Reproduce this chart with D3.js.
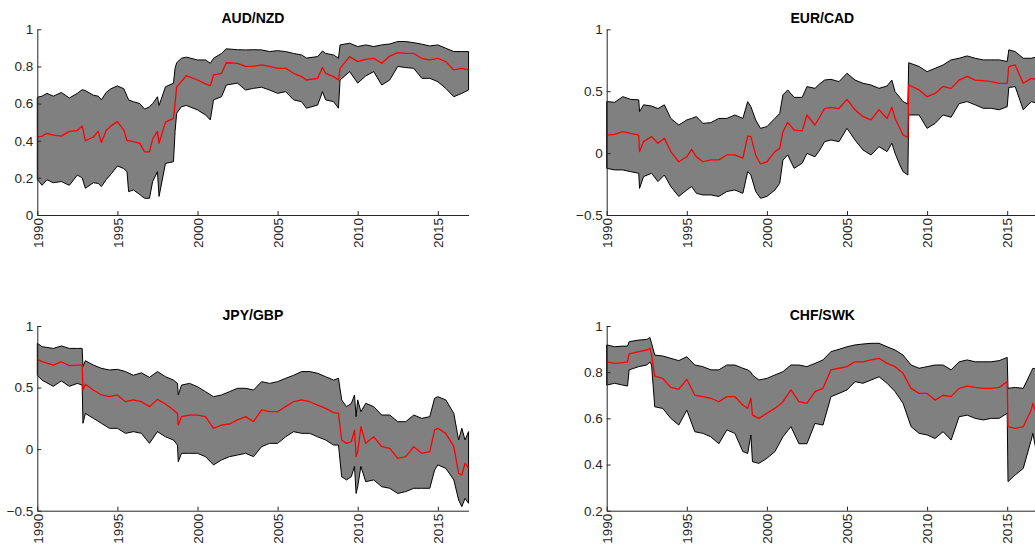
<!DOCTYPE html>
<html><head><meta charset="utf-8">
<script src="https://cdn.jsdelivr.net/npm/d3@7"></script>
<style>
html,body{margin:0;padding:0;background:#fff;overflow:hidden}
svg{display:block;font-family:"Liberation Sans",Arial,Helvetica,sans-serif}
</style></head><body>
<svg id="c" width="1035" height="547"></svg>
<script>
const titles = ["AUD/NZD", "EUR/CAD", "JPY/GBP", "CHF/SWK"];
const xTicks = [1990, 1995, 2000, 2005, 2010, 2015];
const yTicks1 = [0, 0.2, 0.4, 0.6, 0.8, 1];
const yTicks2 = [-0.5, 0, 0.5, 1];
const yTicks3 = [-0.5, 0, 0.5, 1];
const yTicks4 = [0.2, 0.4, 0.6, 0.8, 1];

// AUD/NZD
const t1 = [1990,1990.3,1990.6,1991,1991.5,1992,1992.5,1992.8,1993,1993.5,1993.8,1994,1994.3,1994.6,1995,1995.4,1995.6,1995.7,1996,1996.4,1996.7,1997,1997.2,1997.5,1997.6,1998,1998.5,1998.6,1998.7,1999,1999.3,2000,2000.5,2000.8,2001,2001.5,2001.8,2002.5,2003,2003.5,2004,2004.5,2005,2005.5,2006,2006.5,2006.8,2007.5,2007.8,2008,2008.5,2008.8,2008.9,2009.5,2010,2010.5,2011,2011.5,2012,2012.5,2013,2013.5,2014,2014.5,2015,2015.5,2016,2016.5,2016.92];
const up1 = [0.634,0.64,0.655,0.64,0.66,0.63,0.655,0.675,0.67,0.645,0.64,0.62,0.66,0.68,0.695,0.68,0.64,0.62,0.61,0.60,0.57,0.583,0.60,0.637,0.59,0.69,0.71,0.79,0.82,0.844,0.85,0.835,0.835,0.817,0.844,0.87,0.895,0.89,0.889,0.89,0.889,0.88,0.885,0.88,0.87,0.862,0.845,0.853,0.883,0.87,0.862,0.844,0.916,0.925,0.907,0.916,0.907,0.916,0.921,0.934,0.934,0.928,0.92,0.91,0.916,0.898,0.88,0.88,0.88];
const mid1 = [0.42,0.425,0.44,0.43,0.425,0.45,0.455,0.48,0.40,0.42,0.45,0.39,0.455,0.48,0.503,0.457,0.40,0.40,0.395,0.386,0.34,0.34,0.41,0.45,0.386,0.50,0.52,0.60,0.69,0.72,0.75,0.727,0.706,0.695,0.754,0.763,0.82,0.817,0.80,0.80,0.808,0.80,0.79,0.79,0.763,0.745,0.727,0.736,0.794,0.763,0.745,0.727,0.79,0.853,0.826,0.838,0.844,0.817,0.856,0.874,0.87,0.87,0.844,0.835,0.844,0.826,0.781,0.79,0.781];
const lo1 = [0.192,0.16,0.19,0.174,0.18,0.16,0.215,0.20,0.144,0.174,0.17,0.153,0.19,0.22,0.264,0.25,0.233,0.126,0.135,0.11,0.09,0.09,0.18,0.233,0.10,0.278,0.287,0.45,0.548,0.583,0.59,0.566,0.539,0.512,0.62,0.637,0.70,0.71,0.673,0.682,0.688,0.673,0.655,0.664,0.62,0.61,0.575,0.592,0.664,0.62,0.61,0.575,0.727,0.772,0.71,0.749,0.772,0.70,0.727,0.80,0.794,0.79,0.736,0.736,0.718,0.682,0.637,0.655,0.673];

// EUR/CAD
const t2 = [1990,1990.5,1991,1991.5,1992,1992.05,1992.3,1992.8,1993.2,1993.6,1994,1994.5,1995,1995.3,1995.6,1996,1996.5,1997,1997.5,1998,1998.5,1998.8,1999,1999.3,1999.6,2000,2000.5,2000.8,2001,2001.3,2001.7,2002.2,2002.5,2003,2003.3,2003.6,2004,2004.5,2005,2005.5,2006,2006.5,2007,2007.5,2007.8,2008,2008.3,2008.5,2008.8,2008.85,2009.5,2010,2010.5,2011,2011.5,2012,2012.5,2013,2013.5,2014,2014.5,2015,2015.1,2015.5,2016,2016.5,2016.92];
const up2 = [0.416,0.41,0.456,0.434,0.43,0.335,0.39,0.38,0.36,0.39,0.28,0.227,0.268,0.28,0.295,0.24,0.246,0.28,0.28,0.308,0.28,0.416,0.375,0.268,0.20,0.214,0.28,0.32,0.47,0.51,0.45,0.45,0.537,0.523,0.56,0.59,0.596,0.577,0.645,0.59,0.564,0.55,0.523,0.542,0.59,0.496,0.45,0.416,0.397,0.73,0.70,0.658,0.685,0.712,0.753,0.766,0.785,0.766,0.753,0.753,0.753,0.74,0.834,0.82,0.766,0.766,0.78];
const mid2 = [0.146,0.152,0.173,0.16,0.146,0.012,0.093,0.133,0.08,0.12,0.012,-0.07,-0.03,0.03,-0.03,-0.07,-0.055,-0.055,-0.015,-0.015,-0.04,0.138,0.133,-0.015,-0.088,-0.07,0.012,0.038,0.173,0.248,0.186,0.18,0.308,0.227,0.294,0.36,0.37,0.36,0.434,0.35,0.294,0.268,0.35,0.28,0.37,0.28,0.20,0.146,0.127,0.55,0.51,0.456,0.482,0.537,0.523,0.59,0.62,0.59,0.585,0.577,0.564,0.564,0.698,0.712,0.564,0.604,0.59];
const lo2 = [-0.123,-0.136,-0.136,-0.15,-0.163,-0.285,-0.19,-0.163,-0.23,-0.177,-0.27,-0.35,-0.298,-0.27,-0.325,-0.338,-0.338,-0.35,-0.31,-0.298,-0.325,-0.15,-0.177,-0.31,-0.365,-0.35,-0.298,-0.244,-0.056,-0.015,-0.123,-0.082,-0.002,-0.03,0.025,0.092,0.106,0.092,0.20,0.106,0.025,-0.015,0.052,0.012,0.08,-0.002,-0.096,-0.15,-0.177,0.308,0.308,0.20,0.24,0.308,0.29,0.40,0.416,0.39,0.362,0.362,0.35,0.375,0.53,0.537,0.35,0.416,0.40];

// JPY/GBP
const t3 = [1990,1990.3,1991,1991.5,1992,1992.5,1992.8,1992.85,1993,1993.5,1994,1994.5,1995,1995.5,1996,1996.5,1997,1997.5,1998,1998.5,1998.75,1998.8,1999,1999.5,2000,2000.5,2001,2001.5,2002,2002.5,2003,2003.5,2004,2004.5,2005,2005.5,2006,2006.5,2007,2007.5,2008,2008.5,2008.8,2009,2009.3,2009.6,2009.8,2009.9,2010,2010.2,2010.5,2011,2011.5,2012,2012.5,2013,2013.5,2014,2014.5,2014.8,2015,2015.5,2016,2016.3,2016.5,2016.7,2016.92];
const up3 = [0.86,0.832,0.818,0.838,0.818,0.818,0.818,0.67,0.718,0.683,0.656,0.643,0.648,0.63,0.60,0.62,0.583,0.63,0.588,0.561,0.534,0.44,0.52,0.534,0.507,0.467,0.426,0.44,0.467,0.494,0.494,0.48,0.548,0.534,0.548,0.575,0.60,0.63,0.63,0.616,0.588,0.561,0.575,0.40,0.345,0.37,0.44,0.264,0.40,0.304,0.372,0.345,0.277,0.277,0.223,0.223,0.277,0.25,0.264,0.413,0.426,0.40,0.29,0.074,0.169,0.074,0.142];
const mid3 = [0.729,0.71,0.683,0.71,0.678,0.683,0.683,0.48,0.527,0.48,0.44,0.426,0.44,0.385,0.40,0.385,0.345,0.404,0.367,0.318,0.29,0.196,0.264,0.277,0.277,0.264,0.169,0.196,0.204,0.237,0.264,0.223,0.318,0.304,0.304,0.345,0.385,0.40,0.385,0.358,0.331,0.296,0.29,0.074,0.047,0.06,0.155,-0.06,-0.02,0.182,0.047,0.10,0.02,0.006,-0.075,-0.061,0.02,-0.034,-0.02,0.155,0.169,0.128,0.02,-0.197,-0.21,-0.115,-0.156];
const lo3 = [0.60,0.56,0.51,0.554,0.51,0.534,0.52,0.21,0.29,0.25,0.21,0.169,0.169,0.128,0.142,0.128,0.047,0.142,0.10,0.074,0.033,-0.102,-0.034,-0.034,-0.034,-0.061,-0.128,-0.088,-0.061,-0.048,-0.034,-0.061,0.02,0.047,0.047,0.10,0.142,0.128,0.128,0.10,0.074,0.033,0.033,-0.224,-0.25,-0.224,-0.14,-0.36,-0.305,-0.14,-0.264,-0.25,-0.305,-0.318,-0.36,-0.345,-0.318,-0.318,-0.318,-0.17,-0.128,-0.156,-0.25,-0.413,-0.467,-0.40,-0.44];

// CHF/SWK
const t4 = [1990,1990.5,1991,1991.3,1991.4,1992,1992.5,1992.7,1992.8,1993,1993.5,1994,1994.5,1995,1995.5,1996,1996.5,1997,1997.5,1998,1998.5,1998.8,1999,1999.1,1999.5,2000,2000.5,2001,2001.5,2002,2002.5,2003,2003.5,2004,2004.5,2005,2005.5,2006,2006.5,2007,2007.5,2008,2008.5,2009,2009.5,2010,2010.5,2011,2011.5,2012,2012.5,2013,2013.5,2014,2014.5,2015,2015.05,2015.5,2016,2016.5,2016.6,2016.92];
const up4 = [0.918,0.91,0.913,0.913,0.932,0.939,0.942,0.95,0.925,0.874,0.87,0.86,0.85,0.867,0.831,0.824,0.81,0.81,0.831,0.831,0.817,0.81,0.80,0.788,0.766,0.773,0.788,0.802,0.831,0.831,0.824,0.838,0.853,0.889,0.899,0.91,0.918,0.922,0.925,0.925,0.91,0.896,0.874,0.831,0.817,0.824,0.831,0.831,0.81,0.845,0.853,0.845,0.845,0.845,0.85,0.864,0.73,0.734,0.73,0.802,0.817,0.81];
const mid4 = [0.845,0.838,0.841,0.845,0.879,0.889,0.896,0.903,0.874,0.783,0.773,0.734,0.726,0.769,0.70,0.694,0.687,0.672,0.694,0.694,0.658,0.643,0.687,0.614,0.60,0.622,0.643,0.672,0.723,0.672,0.665,0.716,0.73,0.81,0.817,0.824,0.845,0.845,0.853,0.86,0.838,0.824,0.795,0.73,0.708,0.708,0.679,0.70,0.694,0.73,0.74,0.734,0.73,0.73,0.734,0.759,0.564,0.557,0.564,0.636,0.665,0.60];
const lo4 = [0.744,0.752,0.744,0.74,0.81,0.824,0.831,0.845,0.831,0.65,0.643,0.60,0.571,0.636,0.542,0.535,0.52,0.49,0.55,0.535,0.456,0.448,0.528,0.412,0.405,0.427,0.456,0.52,0.564,0.49,0.49,0.578,0.571,0.694,0.708,0.723,0.759,0.752,0.766,0.78,0.752,0.716,0.665,0.564,0.535,0.528,0.513,0.542,0.506,0.607,0.614,0.60,0.593,0.60,0.60,0.622,0.326,0.355,0.383,0.506,0.535,0.42];

const series = [
  {title: titles[0], t: t1, up: up1, mid: mid1, lo: lo1, yTicks: yTicks1},
  {title: titles[1], t: t2, up: up2, mid: mid2, lo: lo2, yTicks: yTicks2},
  {title: titles[2], t: t3, up: up3, mid: mid3, lo: lo3, yTicks: yTicks3},
  {title: titles[3], t: t4, up: up4, mid: mid4, lo: lo4, yTicks: yTicks4}
];

const layout = [
  {x0: 37.3, y0: 29.3, y1: 215},
  {x0: 606.7, y0: 29.3, y1: 215},
  {x0: 37.3, y0: 326, y1: 510.7},
  {x0: 606.7, y0: 326, y1: 510.7}
];
const pxPerYear = 16.02;
const xEnd = 2016.92;

const svg = d3.select("#c");
const axisColor = "#262626";
const fontFam = '"Liberation Sans",Arial,Helvetica,sans-serif';

series.forEach((s, i) => {
  const L = layout[i];
  const x = d3.scaleLinear().domain([1990, xEnd]).range([L.x0, L.x0 + (xEnd - 1990) * pxPerYear]);
  const y = d3.scaleLinear().domain(d3.extent(s.yTicks)).range([L.y1, L.y0]);
  const g = svg.append("g");

  const pts = s.t.map((tv, k) => ({t: tv, up: s.up[k], mid: s.mid[k], lo: s.lo[k]}));
  const area = d3.area().x(d => x(d.t)).y0(d => y(d.lo)).y1(d => y(d.up));
  g.append("path")
    .attr("d", area(pts) + "Z")
    .attr("fill", "#808080").attr("stroke", "#000").attr("stroke-width", 1).attr("stroke-linejoin", "round");
  const line = d3.line().x(d => x(d.t)).y(d => y(d.mid));
  g.append("path").attr("d", line(pts))
    .attr("fill", "none").attr("stroke", "#ff0000").attr("stroke-width", 1.3).attr("stroke-linejoin", "round");

  const ya = g.append("g").attr("transform", `translate(${L.x0},0)`)
    .call(d3.axisLeft(y).tickValues(s.yTicks).tickSize(-4).tickSizeOuter(0).tickPadding(4).tickFormat(d3.format("~g")));
  const xa = g.append("g").attr("transform", `translate(0,${L.y1})`)
    .call(d3.axisBottom(x).tickValues(xTicks).tickSize(-4).tickSizeOuter(0).tickPadding(0).tickFormat(d3.format("d")));
  [ya, xa].forEach(a => {
    a.select(".domain").attr("stroke", axisColor).attr("stroke-width", 1);
    a.selectAll(".tick line").attr("stroke", axisColor);
    a.selectAll("text").attr("fill", axisColor).style("font-size", "13.5px").style("font-family", fontFam);
  });
  xa.selectAll(".tick text")
    .attr("transform", "rotate(-90)")
    .attr("text-anchor", "end")
    .attr("x", -3).attr("y", 0).attr("dy", "0.35em");

  g.append("text")
    .attr("x", (x.range()[0] + x.range()[1]) / 2)
    .attr("y", L.y0 - 6.5)
    .attr("text-anchor", "middle")
    .style("font-weight", "bold").style("font-size", "14px").style("font-family", fontFam)
    .attr("fill", "#000")
    .text(s.title);
});
</script>
</body></html>
